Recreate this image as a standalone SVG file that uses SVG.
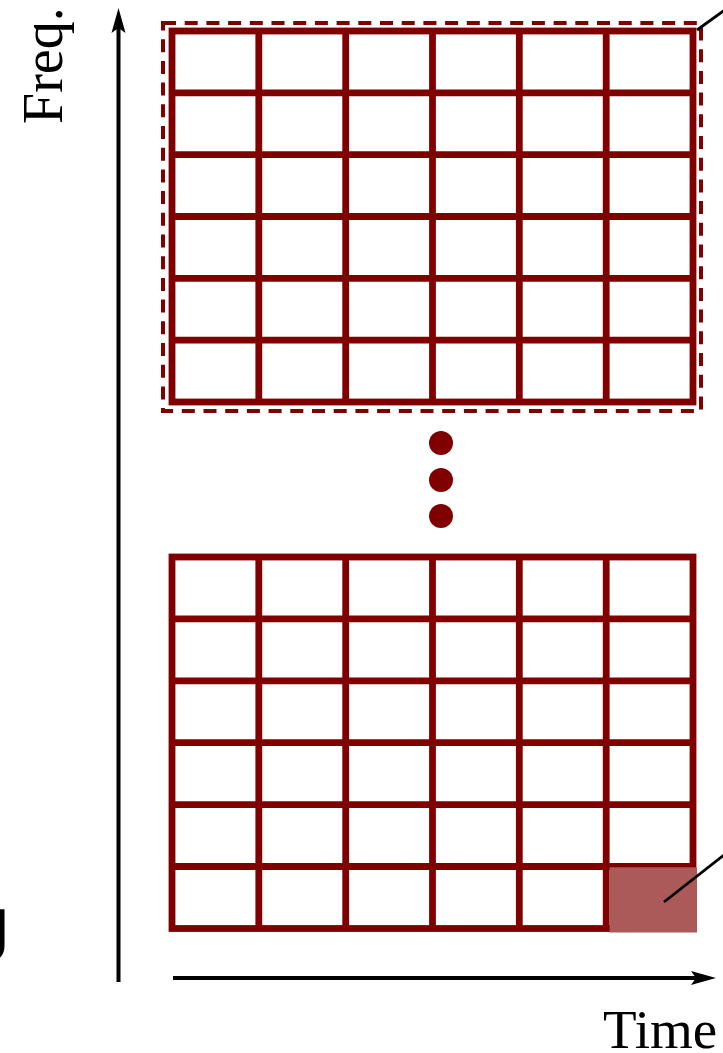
<svg xmlns="http://www.w3.org/2000/svg" width="723" height="1053" viewBox="0 0 723 1053">
<style>
.grid{fill:none;stroke:#800000;stroke-width:6.8}
.dash{fill:none;stroke:#800000;stroke-width:4;stroke-dasharray:13 8.7}
.axis{stroke:#000;stroke-width:4;fill:none}
.ptr{stroke:#000;stroke-width:2.8;fill:none}
.lbl{font-family:"Liberation Serif","Times New Roman",serif;font-size:56px;fill:#000}
.dot{fill:#800000}
</style>
<defs>
<marker id="arr" markerUnits="userSpaceOnUse" markerWidth="26" markerHeight="15" refX="5" refY="7" orient="auto" overflow="visible">
<path d="M0,0 L25,7 L0,14 L5,7 Z" fill="#000"/>
</marker>
</defs>
<g id="top-grid">
<rect class="dash" x="163" y="23" width="538" height="388"/>
<rect class="grid" x="172" y="31" width="521" height="371"/>
<path class="grid" d="M258.8,31V402 M345.7,31V402 M432.5,31V402 M519.3,31V402 M606.2,31V402 M172,92.8H693 M172,154.7H693 M172,216.5H693 M172,278.3H693 M172,340.2H693"/>
</g>
<g id="ellipsis">
<circle class="dot" cx="441" cy="443" r="12"/>
<circle class="dot" cx="441" cy="480" r="12"/>
<circle class="dot" cx="441" cy="516" r="12"/>
</g>
<g id="bottom-grid">
<rect class="grid" x="172" y="557" width="521" height="371.5"/>
<path class="grid" d="M258.8,557V928.5 M345.7,557V928.5 M432.5,557V928.5 M519.3,557V928.5 M606.2,557V928.5 M172,618.9H693 M172,680.8H693 M172,742.7H693 M172,804.6H693 M172,866.5H693"/>
<rect id="shaded-cell" x="609.6" y="867.3" width="87.4" height="65.2" fill="#ac5959"/>
</g>
<g id="connectors">
<line class="axis" x1="118.5" y1="982" x2="118.5" y2="28" marker-end="url(#arr)"/>
<line class="axis" x1="173" y1="978" x2="696" y2="978" marker-end="url(#arr)"/>
<line class="ptr" x1="697" y1="30" x2="724" y2="10.5"/>
<line class="ptr" x1="664" y1="902" x2="724" y2="855"/>
</g>
<g id="labels">
<text class="lbl" transform="translate(62,124) rotate(-90)">Freq.</text>
<text class="lbl" x="603" y="1048" style="font-size:55px">Time</text>
<text x="-27" y="961" style="font-family:'Liberation Sans',Arial,sans-serif;font-size:74px;fill:#000">J</text>
</g>
</svg>
